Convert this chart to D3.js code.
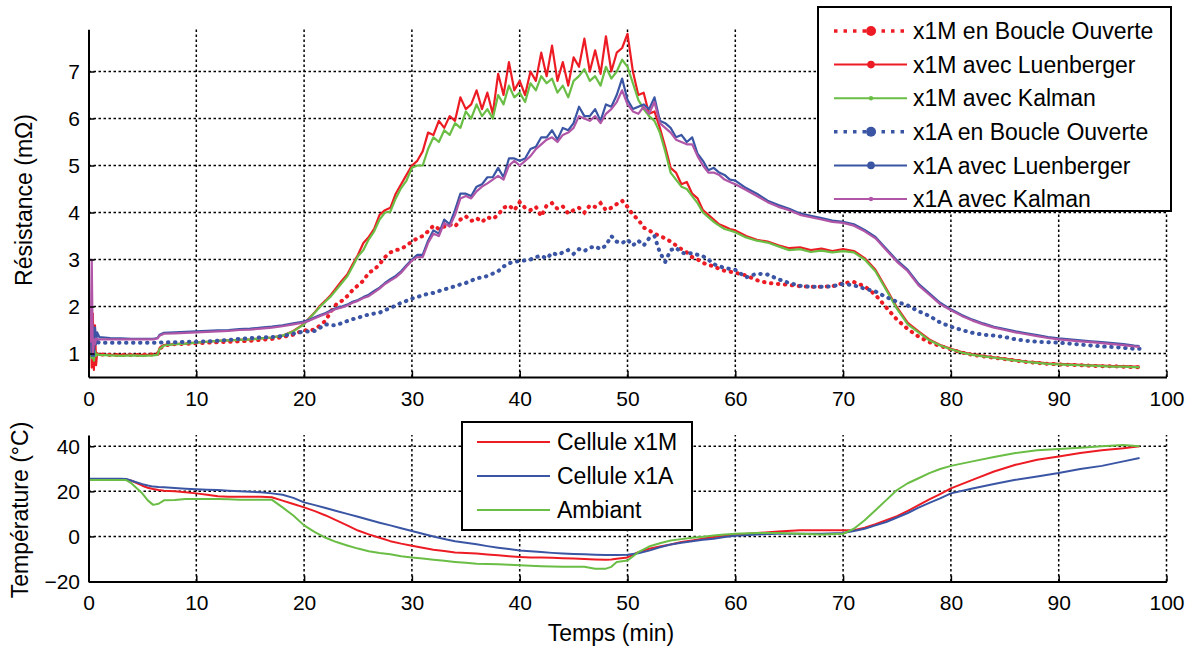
<!DOCTYPE html>
<html><head><meta charset="utf-8">
<script src="https://cdn.jsdelivr.net/npm/d3@7"></script>
<style>
body{margin:0;background:#fff}
svg{display:block}
text{font-family:Arial,"Liberation Sans",Helvetica,sans-serif;fill:#000}
</style>
</head><body>
<svg id="c" width="1195" height="648"></svg>
<script>
// ---------- DATA (top panel: resistance, mΩ) ----------
const tTop = [0,0.2,0.3,0.4,0.5,0.6,0.7,0.8,1,2,3,4,5,6,6.4,6.6,7,8,9,10,11,12,13,14,15,16,17,18,19,20,
20.5,21,21.5,22,22.5,23,23.5,24,24.5,25,25.5,26,26.5,27,27.5,28,28.5,29,29.5,30,
30.5,31,31.5,32,32.5,33,33.5,34,34.5,35,35.5,36,36.5,37,37.5,38,38.5,39,39.5,40,
40.5,41,41.5,42,42.5,43,43.5,44,44.5,45,45.5,46,46.5,47,47.5,48,48.5,49,49.5,50,
50.5,51,51.5,52,52.5,53,53.5,54,54.5,55,55.5,56,56.5,57,57.5,58,58.5,59,59.5,60,
61,62,63,64,65,66,67,68,69,70,71,72,73,74,75,76,77,78,79,80,81,82,83,84,85,86,87,88,89,90,91,92,93,94,95,96,97,97.5];

const x1M_BO = [1.0,1.0,1.0,1.0,1.0,1.0,1.0,1.0,0.98,0.97,0.97,0.97,0.97,0.98,0.98,1.1,1.17,1.2,1.2,1.22,1.23,1.24,1.25,1.26,1.27,1.29,1.31,1.35,1.4,1.5,
1.48,1.52,1.6,1.7,1.9,2.05,2.12,2.22,2.35,2.45,2.55,2.72,2.78,2.9,3.05,3.15,3.2,3.22,3.3,3.38,
3.45,3.5,3.6,3.72,3.65,3.7,3.75,3.7,3.85,3.92,3.82,3.88,3.8,3.9,3.86,3.95,4.1,4.15,4.05,4.22,
4.1,4.05,4.12,3.92,4.15,4.2,4.08,4.13,3.98,4.05,4.1,4.0,4.15,4.12,4.2,4.05,4.1,4.18,4.25,4.12,
3.95,3.85,3.68,3.62,3.55,3.5,3.45,3.38,3.3,3.22,3.15,3.05,3.0,2.93,2.88,2.86,2.8,2.76,2.74,2.72,
2.66,2.56,2.5,2.48,2.46,2.43,2.42,2.42,2.43,2.5,2.52,2.43,2.25,1.98,1.72,1.52,1.36,1.24,1.16,1.09,1.02,0.97,0.94,0.91,0.88,0.85,0.82,0.8,0.78,0.77,0.76,0.75,0.74,0.73,0.73,0.72,0.71,0.71];

const x1M_L = [1.0,1.9,0.7,1.85,0.65,1.6,0.75,1.0,0.98,0.97,0.97,0.97,0.97,0.97,0.98,1.12,1.18,1.2,1.21,1.23,1.25,1.27,1.28,1.29,1.3,1.32,1.34,1.38,1.48,1.63,
1.76,1.88,2.02,2.13,2.25,2.4,2.55,2.68,2.9,3.1,3.35,3.48,3.65,3.95,4.05,4.1,4.4,4.6,4.8,5.0,
5.1,5.3,5.7,5.65,5.95,5.8,6.05,5.95,6.45,6.2,6.3,6.6,6.2,6.55,6.1,6.95,6.5,7.2,6.6,6.8,
6.5,7.0,6.8,7.4,6.9,7.55,6.8,7.2,6.7,7.3,7.1,7.7,7.0,7.45,6.95,7.75,7.0,7.4,7.5,7.8,
7.0,6.5,6.55,6.1,6.15,5.8,5.4,4.95,4.85,4.6,4.65,4.4,4.3,4.05,3.95,3.85,3.75,3.7,3.65,3.62,
3.5,3.42,3.38,3.3,3.24,3.26,3.2,3.23,3.18,3.22,3.18,3.03,2.78,2.38,1.98,1.65,1.47,1.3,1.18,1.1,1.03,0.98,0.95,0.92,0.89,0.86,0.83,0.81,0.79,0.78,0.77,0.76,0.75,0.74,0.73,0.73,0.72,0.72];

const x1M_K = [1.0,1.0,0.9,1.1,0.85,1.05,0.95,0.98,0.97,0.96,0.95,0.96,0.95,0.96,0.97,1.1,1.17,1.2,1.21,1.23,1.25,1.27,1.28,1.29,1.3,1.32,1.34,1.38,1.47,1.62,
1.75,1.87,2.0,2.11,2.22,2.36,2.5,2.64,2.85,3.07,3.2,3.43,3.6,3.85,4.0,4.02,4.3,4.52,4.68,4.95,
5.0,5.0,5.35,5.6,5.5,5.75,5.65,5.9,5.8,6.15,6.0,6.3,6.05,6.2,6.0,6.5,6.3,6.7,6.45,6.55,
6.35,6.75,6.6,6.9,6.75,6.85,6.55,6.7,6.45,6.8,6.9,7.05,6.8,6.9,6.7,7.1,6.85,7.0,7.25,7.1,
6.75,6.4,6.2,6.05,5.95,5.7,5.3,4.85,4.7,4.55,4.5,4.35,4.2,4.0,3.9,3.8,3.72,3.65,3.62,3.58,
3.47,3.4,3.36,3.28,3.2,3.22,3.16,3.19,3.15,3.18,3.15,3.0,2.75,2.35,1.95,1.62,1.45,1.28,1.17,1.09,1.02,0.97,0.94,0.91,0.88,0.85,0.82,0.8,0.78,0.77,0.76,0.75,0.74,0.73,0.72,0.72,0.71,0.71];

const x1A_BO = [2.0,1.3,1.25,1.25,1.25,1.25,1.25,1.25,1.23,1.23,1.23,1.23,1.23,1.23,1.23,1.23,1.24,1.24,1.25,1.25,1.26,1.27,1.29,1.31,1.33,1.34,1.35,1.37,1.42,1.47,
1.47,1.48,1.55,1.62,1.6,1.6,1.65,1.69,1.73,1.76,1.8,1.83,1.85,1.87,1.92,1.97,2.02,2.08,2.12,2.17,
2.2,2.24,2.27,2.29,2.33,2.36,2.4,2.43,2.47,2.5,2.55,2.6,2.62,2.65,2.7,2.75,2.85,2.92,2.95,2.97,
2.98,3.0,3.05,3.08,3.02,3.14,3.1,3.15,3.2,3.12,3.22,3.18,3.25,3.28,3.22,3.3,3.5,3.38,3.35,3.42,
3.3,3.4,3.3,3.45,3.5,3.15,2.95,3.2,3.25,3.15,3.12,3.14,3.1,3.07,3.0,2.9,2.86,2.82,2.8,2.78,
2.62,2.7,2.68,2.58,2.5,2.44,2.42,2.42,2.43,2.48,2.45,2.38,2.32,2.2,2.1,2.02,1.9,1.8,1.66,1.57,1.5,1.44,1.4,1.38,1.35,1.3,1.27,1.25,1.24,1.23,1.21,1.19,1.17,1.15,1.14,1.12,1.1,1.1];

const x1A_L = [2.0,1.5,0.95,1.6,0.95,1.55,1.2,1.45,1.35,1.33,1.32,1.31,1.31,1.31,1.33,1.4,1.44,1.45,1.46,1.47,1.48,1.49,1.5,1.52,1.53,1.55,1.57,1.6,1.64,1.68,
1.72,1.77,1.82,1.86,1.92,1.97,2.0,2.04,2.1,2.14,2.2,2.25,2.33,2.4,2.5,2.58,2.65,2.75,2.88,3.0,
3.1,3.1,3.4,3.62,3.55,3.85,3.75,4.05,4.4,4.4,4.35,4.55,4.6,4.75,4.75,4.95,4.75,5.15,5.15,5.1,
5.15,5.35,5.4,5.6,5.6,5.75,5.55,5.8,5.75,5.9,6.25,6.05,6.05,6.2,5.95,6.3,6.25,6.5,6.85,6.4,
6.2,6.25,6.3,6.2,6.45,5.95,5.9,5.8,5.6,5.65,5.5,5.6,5.25,5.1,4.9,4.95,4.85,4.8,4.7,4.68,
4.52,4.4,4.25,4.16,4.08,3.98,3.93,3.88,3.83,3.8,3.75,3.63,3.48,3.23,2.98,2.78,2.48,2.28,2.08,1.94,1.82,1.72,1.64,1.57,1.52,1.47,1.43,1.39,1.35,1.32,1.3,1.28,1.26,1.24,1.22,1.2,1.17,1.16];

const x1A_K = [1.25,1.25,3.0,1.0,1.3,1.2,1.32,1.3,1.3,1.3,1.3,1.3,1.3,1.3,1.32,1.38,1.42,1.43,1.44,1.45,1.46,1.47,1.48,1.5,1.51,1.53,1.55,1.58,1.62,1.66,
1.7,1.75,1.8,1.84,1.9,1.95,1.98,2.02,2.08,2.12,2.18,2.22,2.3,2.38,2.48,2.55,2.62,2.72,2.85,2.98,
3.05,3.05,3.35,3.55,3.5,3.78,3.7,3.95,4.3,4.35,4.3,4.45,4.55,4.62,4.7,4.78,4.7,5.0,5.1,5.0,
5.1,5.2,5.35,5.45,5.55,5.6,5.5,5.65,5.7,5.8,6.05,6.0,5.95,6.05,5.9,6.1,6.2,6.35,6.6,6.3,
6.15,6.1,6.25,6.1,6.35,5.9,5.8,5.7,5.55,5.5,5.45,5.45,5.2,5.0,4.85,4.85,4.8,4.7,4.65,4.6,
4.48,4.35,4.22,4.12,4.05,3.95,3.9,3.85,3.8,3.78,3.72,3.6,3.45,3.2,2.95,2.75,2.45,2.25,2.05,1.92,1.8,1.7,1.62,1.55,1.5,1.45,1.41,1.37,1.33,1.3,1.28,1.26,1.24,1.22,1.2,1.18,1.15,1.14];

// ---------- DATA (bottom panel: temperature, °C) ----------
const tBot = [0,1,2,3,3.5,4,5,5.5,6,6.5,7,8,9,10,11,12,13,14,15,16,17,18,19,20,21,22,23,24,25,26,27,28,29,30,31,32,33,34,35,36,37,38,39,40,41,42,43,44,45,46,47,48,48.5,49,50,51,52,53,54,55,56,57,58,59,60,62,64,66,68,70,71,72,73,74,75,76,77,78,79,80,82,84,86,88,90,92,94,96,97.5];

const cellX1M = [25.4,25.4,25.4,25.4,25.3,24.7,22.5,21.6,21.0,20.6,20.3,20.0,19.6,19.1,18.5,17.8,17.6,17.6,17.6,17.6,17.4,15.9,14.4,12.9,11.2,9.3,7.1,4.9,2.6,0.9,-0.6,-2.1,-3.2,-4.1,-5.0,-5.9,-6.5,-7.1,-7.4,-7.6,-8.0,-8.4,-8.8,-9.1,-9.3,-9.4,-9.5,-9.7,-9.8,-10.0,-10.2,-10.3,-10.2,-9.9,-9.3,-7.0,-5.5,-4.5,-3.6,-2.5,-1.8,-1.0,-0.3,0.2,0.7,1.5,2.2,2.7,2.7,2.7,2.7,3.9,5.4,7.2,9.0,11.3,13.9,16.4,18.8,21.3,25.1,28.8,31.8,34.0,35.5,37.0,38.2,39.1,40.0];

const cellX1A = [25.6,25.6,25.6,25.6,25.5,24.7,23.2,22.6,22.1,21.9,21.8,21.5,21.2,20.9,20.7,20.6,20.3,20.0,19.8,19.6,19.1,18.5,17.1,15.1,13.9,12.6,11.3,10.0,8.7,7.4,6.1,4.9,3.6,2.4,1.2,0.0,-1.1,-2.1,-2.8,-3.5,-4.3,-5.0,-5.6,-6.2,-6.6,-6.9,-7.3,-7.6,-7.8,-7.9,-8.1,-8.2,-8.2,-8.2,-8.1,-7.5,-6.3,-4.8,-3.6,-2.8,-2.1,-1.5,-1.0,-0.3,0.3,0.9,1.2,1.2,1.2,1.5,2.4,3.4,4.9,6.4,8.4,10.4,12.8,14.9,16.9,19.1,21.3,23.3,25.1,26.6,28.1,29.9,31.3,33.3,34.8];

const ambiant = [25.0,25.0,25.0,25.0,25.0,23.5,19.0,16.0,14.0,14.5,16.0,16.2,16.6,16.6,16.6,16.6,16.5,16.3,16.3,16.3,16.3,12.9,9.3,4.9,1.9,-0.6,-2.5,-4.0,-5.4,-6.6,-7.4,-7.9,-8.8,-9.4,-9.8,-10.3,-10.8,-11.3,-11.7,-12.1,-12.2,-12.4,-12.6,-12.8,-13.0,-13.2,-13.3,-13.5,-13.5,-13.5,-14.3,-14.3,-13.5,-11.3,-10.7,-7.0,-4.5,-3.0,-1.8,-1.2,-0.6,-0.1,0.4,0.8,1.2,1.5,1.5,1.2,0.9,1.2,3.4,7.2,11.6,16.1,20.6,23.6,25.8,28.1,29.9,31.3,33.3,35.2,37.0,38.2,38.8,39.3,40.0,40.6,40.0];

// ---------- ticks / labels ----------
const xTicks = [0,10,20,30,40,50,60,70,80,90,100];
const yTicksTop = [1,2,3,4,5,6,7];
const yTicksBot = [-20,0,20,40];
const legendTop = ["x1M en Boucle Ouverte","x1M avec Luenberger","x1M avec Kalman","x1A en Boucle Ouverte","x1A avec Luenberger","x1A avec Kalman"];
const legendBot = ["Cellule x1M","Cellule x1A","Ambiant"];

// ---------- styles ----------
const RED="#ED1C24", GREEN="#6ABD45", BLUE="#3A55A4", MAG="#B156A7";
const topSeries = [
  {v:x1M_BO, c:RED, dotted:true, r:5},
  {v:x1M_L, c:RED, dotted:false, r:3.8},
  {v:x1M_K, c:GREEN, dotted:false, r:2.2},
  {v:x1A_BO, c:BLUE, dotted:true, r:5},
  {v:x1A_L, c:BLUE, dotted:false, r:3.8},
  {v:x1A_K, c:MAG, dotted:false, r:2.2}
];
const botSeries = [{v:cellX1M,c:RED},{v:cellX1A,c:BLUE},{v:ambiant,c:GREEN}];

const svg = d3.select("#c");
const X0=88.5, X1=1166.5;
const x = d3.scaleLinear().domain([0,100]).range([X0,X1]);
const yT = d3.scaleLinear().domain([0.5,7.9]).range([377,29.2]);
const yB = d3.scaleLinear().domain([-20,45]).range([581.5,435]);

function panel(y, yTicks, id){
  const g = svg.append("g");
  const [yb, yt] = y.range();
  g.selectAll(".gx").data(xTicks.filter(d=>d>0)).enter().append("line")
    .attr("x1",d=>x(d)).attr("x2",d=>x(d)).attr("y1",yb).attr("y2",yt)
    .attr("stroke","#000").attr("stroke-width",1.5).attr("stroke-dasharray","2.5,2.5");
  g.selectAll(".gy").data(yTicks.filter(d=>y(d)<yb-1)).enter().append("line")
    .attr("x1",X0).attr("x2",X1).attr("y1",d=>y(d)).attr("y2",d=>y(d))
    .attr("stroke","#000").attr("stroke-width",1.5).attr("stroke-dasharray","2.5,2.5");
  svg.append("clipPath").attr("id",id).append("rect")
    .attr("x",X0).attr("y",yt-2).attr("width",X1-X0+2).attr("height",yb-yt+2);
  return g;
}
function axes(y, yTicks){
  const [yb] = y.range();
  const ax = svg.append("g").attr("transform",`translate(0,${yb})`)
    .call(d3.axisBottom(x).tickValues(xTicks).tickSizeInner(-6).tickSizeOuter(0).tickPadding(14));
  const ay = svg.append("g").attr("transform",`translate(${X0},0)`)
    .call(d3.axisLeft(y).tickValues(yTicks).tickSizeInner(-6).tickSizeOuter(0).tickPadding(8.5));
  [ax,ay].forEach(a=>{
    a.select(".domain").attr("stroke","#000").attr("stroke-width",2);
    a.selectAll(".tick line").attr("stroke","#000").attr("stroke-width",1.5);
    a.selectAll("text").attr("font-size",21).attr("font-family","Arial,'Liberation Sans',sans-serif").attr("fill","#000");
  });
}

// ---- top panel ----
panel(yT, yTicksTop, "clipT");
const gT = svg.append("g").attr("clip-path","url(#clipT)");
const lineT = d3.line().x((d,i)=>x(tTop[i])).y(d=>yT(d));
topSeries.forEach(s=>{
  const p = gT.append("path").attr("d",lineT(s.v)).attr("fill","none").attr("stroke",s.c);
  if(s.dotted){ p.attr("stroke-width",4).attr("stroke-linecap","round").attr("stroke-dasharray","0.5,6.5"); }
  else { p.attr("stroke-width",2.2).attr("stroke-linejoin","round"); }
});
axes(yT, yTicksTop);

// ---- bottom panel ----
panel(yB, yTicksBot, "clipB");
const gB = svg.append("g").attr("clip-path","url(#clipB)");
const lineB = d3.line().x((d,i)=>x(tBot[i])).y(d=>yB(d));
botSeries.forEach(s=>{
  gB.append("path").attr("d",lineB(s.v)).attr("fill","none").attr("stroke",s.c).attr("stroke-width",2).attr("stroke-linejoin","round");
});
axes(yB, yTicksBot);

// ---- axis titles ----
svg.append("text").attr("transform","translate(32,200) rotate(-90)").attr("text-anchor","middle").attr("font-size",23).text("Résistance (mΩ)");
svg.append("text").attr("transform","translate(28,510) rotate(-90)").attr("text-anchor","middle").attr("font-size",23).text("Température (°C)");
svg.append("text").attr("x",611).attr("y",641).attr("text-anchor","middle").attr("font-size",23).text("Temps (min)");

// ---- top legend ----
const lgT = svg.append("g");
lgT.append("rect").attr("x",818).attr("y",7).attr("width",353).attr("height",204).attr("fill","#fff").attr("stroke","#000").attr("stroke-width",2);
legendTop.forEach((lab,i)=>{
  const s = topSeries[i], yy = 31 + i*33.6;
  const l = lgT.append("line").attr("x1",834).attr("x2",907).attr("y1",yy).attr("y2",yy).attr("stroke",s.c);
  if(s.dotted) l.attr("stroke-width",3.5).attr("stroke-dasharray","3.5,6");
  else l.attr("stroke-width",2);
  lgT.append("circle").attr("cx",871).attr("cy",yy).attr("r",s.r).attr("fill",s.c);
  lgT.append("text").attr("x",913).attr("y",yy).attr("dy","0.36em").attr("font-size",23).text(lab);
});

// ---- bottom legend ----
const lgB = svg.append("g");
lgB.append("rect").attr("x",462).attr("y",422).attr("width",230).attr("height",108).attr("fill","#fff").attr("stroke","#000").attr("stroke-width",2);
legendBot.forEach((lab,i)=>{
  const yy = 442 + i*34;
  lgB.append("line").attr("x1",477).attr("x2",550).attr("y1",yy).attr("y2",yy).attr("stroke",botSeries[i].c).attr("stroke-width",2);
  lgB.append("text").attr("x",557).attr("y",yy).attr("dy","0.36em").attr("font-size",23).text(lab);
});
</script>
</body></html>
